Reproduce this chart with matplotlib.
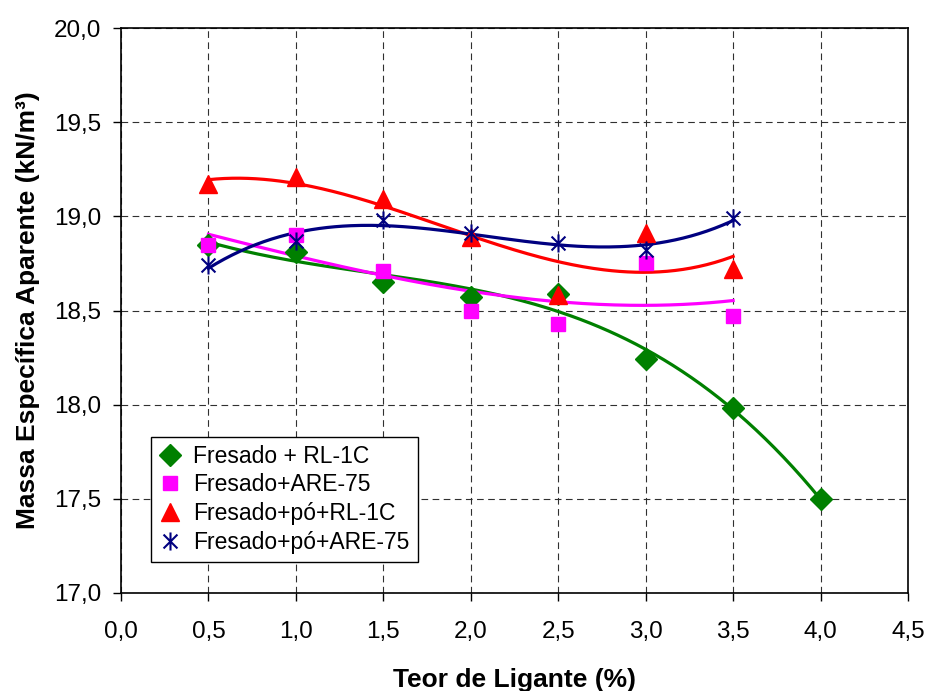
import matplotlib
matplotlib.use('Agg')

import matplotlib.pyplot as plt
import numpy as np
from matplotlib.path import Path
from matplotlib.ticker import FuncFormatter

plt.rcParams['font.family'] = ['Liberation Sans', 'DejaVu Sans']

# teor de ligante (%)
teor = [0.5, 1.0, 1.5, 2.0, 2.5, 3.0, 3.5]
teor_rl1c = [0.5, 1.0, 1.5, 2.0, 2.5, 3.0, 3.5, 4.0]

# massa especifica aparente (kN/m3)
fresado_rl1c = [18.85, 18.81, 18.65, 18.57, 18.59, 18.24, 17.98, 17.50]
fresado_are75 = [18.85, 18.90, 18.71, 18.50, 18.43, 18.75, 18.47]
fresado_po_rl1c = [19.17, 19.21, 19.09, 18.89, 18.58, 18.91, 18.72]
fresado_po_are75 = [18.74, 18.87, 18.98, 18.91, 18.86, 18.82, 18.99]

rotulos = ['Fresado + RL-1C', 'Fresado+ARE-75', 'Fresado+pó+RL-1C', 'Fresado+pó+ARE-75']

# marcador estrela (x + barra vertical) como no Excel
estrela = Path([(-1, -1), (1, 1), (-1, 1), (1, -1), (0, -1.3), (0, 1.3)],
               [Path.MOVETO, Path.LINETO, Path.MOVETO, Path.LINETO, Path.MOVETO, Path.LINETO])

series = [
    (teor_rl1c, fresado_rl1c, '#008000', 'D', 11),
    (teor, fresado_are75, '#FF00FF', 's', 10),
    (teor, fresado_po_rl1c, '#FF0000', '^', 13),
    (teor, fresado_po_are75, '#000080', estrela, 13),
]

fig = plt.figure(figsize=(9.28, 6.91), dpi=100)
ax = fig.add_axes([121 / 928, 1 - 593 / 691, 787 / 928, 565 / 691])

for (x, y, cor, marc, tam), rot in zip(series, rotulos):
    # linha de tendencia polinomial (como no Excel)
    coef = np.polyfit(x, y, 3)
    xs = np.linspace(min(x), max(x), 200)
    ax.plot(xs, np.polyval(coef, xs), color=cor, linewidth=2.3, zorder=3)
    if marc is estrela:
        ax.plot(x, y, linestyle='none', marker=marc, markersize=tam, markeredgecolor=cor,
                markerfacecolor='none', markeredgewidth=1.5, label=rot, zorder=4)
    else:
        ax.plot(x, y, linestyle='none', marker=marc, markersize=tam, color=cor,
                markeredgecolor=cor, label=rot, zorder=4)

ax.set_xlim(0, 4.5)
ax.set_ylim(17.0, 20.0)
ax.set_xticks(np.arange(0, 4.51, 0.5))
ax.set_yticks(np.arange(17.0, 20.01, 0.5))
virgula = FuncFormatter(lambda v, p: f'{v:.1f}'.replace('.', ','))
ax.xaxis.set_major_formatter(virgula)
ax.yaxis.set_major_formatter(virgula)
ax.tick_params(direction='out', length=6, width=1, labelsize=17.5)
ax.tick_params(axis='x', pad=14)
ax.tick_params(axis='y', pad=8)

ax.grid(True, color='#303030', linestyle=(0, (6, 4)), linewidth=0.8)
ax.set_axisbelow(True)
for s in ax.spines.values():
    s.set_linewidth(1.2)

ax.set_xlabel('Teor de Ligante (%)', fontsize=19, fontweight='bold', labelpad=18)
ax.set_ylabel('Massa Específica Aparente (kN/m³)', fontsize=19, fontweight='bold', labelpad=10)

leg = ax.legend(loc='lower left', bbox_to_anchor=(0.038, 0.055), fontsize=16.5, frameon=True,
                fancybox=False, framealpha=1, edgecolor='black', handlelength=1.0,
                handletextpad=0.5, borderpad=0.35, labelspacing=0.25, borderaxespad=0)
leg.get_frame().set_linewidth(1.0)

fig.savefig('out.png', dpi=100)
